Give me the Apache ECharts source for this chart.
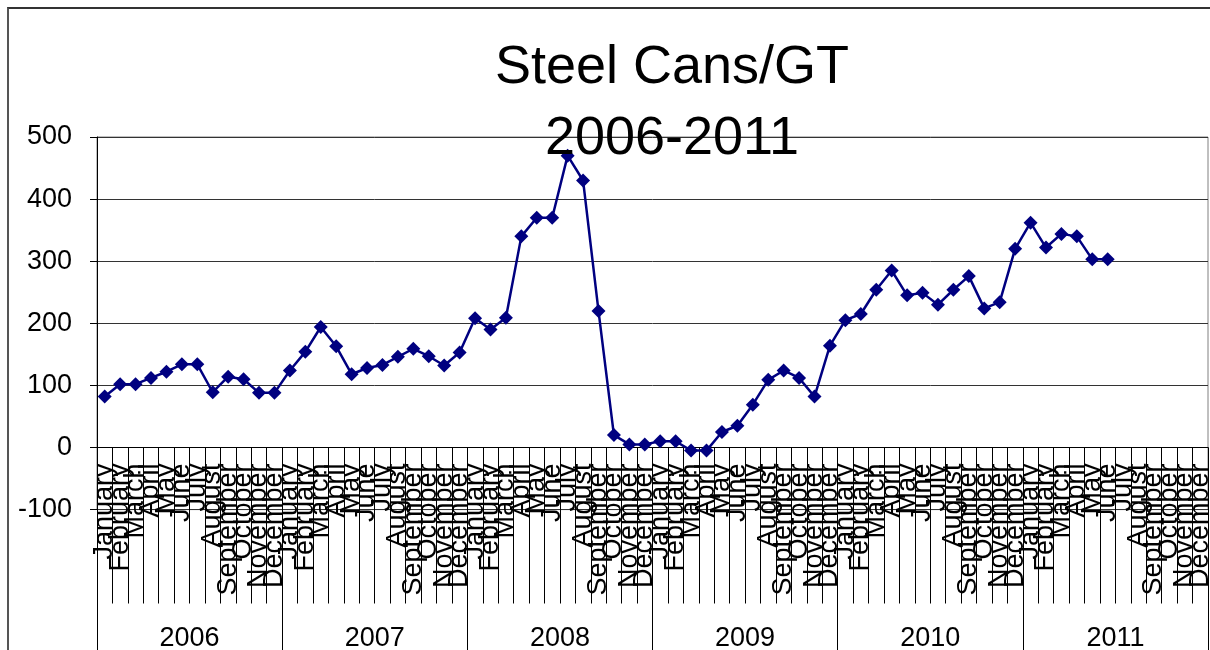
<!DOCTYPE html>
<html>
<head>
<meta charset="utf-8">
<script src="https://cdn.jsdelivr.net/npm/echarts@6/dist/echarts.min.js"></script>
<style>
  html, body { margin: 0; padding: 0; background: #fff; }
  #wrap { position: relative; width: 1210px; height: 650px; overflow: hidden; }
  #frame { position: absolute; left: 7px; top: 7px; width: 1300px; height: 700px;
           border-left: 2px solid #555; border-top: 2px solid #333; }
  #chart { position: absolute; left: 0; top: 0; width: 1210px; height: 650px; }
</style>
</head>
<body>
<div id="wrap">
  <div id="frame"></div>
  <div id="chart"></div>
</div>
<script>
// 数据
const years = ['2006', '2007', '2008', '2009', '2010', '2011']
const monthNames = ['January', 'February', 'March', 'April', 'May', 'June',
  'July', 'August', 'September', 'October', 'November', 'December']
const values2006 = [82, 102, 102, 112, 122, 134, 134, 89, 114, 110, 88, 88]
const values2007 = [124, 154, 194, 163, 118, 128, 133, 146, 159, 147, 132, 153]
const values2008 = [208, 190, 209, 340, 370, 370, 470, 430, 220, 20, 5, 5]
const values2009 = [10, 10, -5, -5, 25, 35, 69, 109, 124, 112, 82, 164]
const values2010 = [205, 215, 254, 285, 245, 249, 230, 254, 276, 224, 234, 320]
const values2011 = [362, 322, 344, 340, 303, 303, null, null, null, null, null, null]
const yTicks = { min: -100, max: 500, interval: 100 }

const months = years.flatMap(() => monthNames)
const values = [].concat(values2006, values2007, values2008, values2009, values2010, values2011)

const font = '"Liberation Sans", Arial, sans-serif'
const gridHeight = 372.6
// 月份轴放在 y=0 处（网格底部往上一个刻度）
const zeroOffset = -gridHeight * (0 - yTicks.min) / (yTicks.max - yTicks.min)

const chart = echarts.init(document.getElementById('chart'))
chart.setOption({
  animation: false,
  title: {
    text: 'Steel Cans/GT\n2006-2011',
    left: 667,
    top: 28,
    textAlign: 'center',
    textStyle: { fontFamily: font, fontSize: 54, fontWeight: 'normal', color: '#000', lineHeight: 71 }
  },
  grid: {
    left: 97,
    top: 137,
    width: 1111,
    height: gridHeight,
    show: true,
    borderColor: '#808080',
    borderWidth: 1,
    backgroundColor: 'transparent',
    containLabel: false,
    outerBoundsMode: 'none'
  },
  xAxis: [
    {
      type: 'category',
      data: months,
      position: 'bottom',
      offset: zeroOffset,
      boundaryGap: true,
      axisLine: { onZero: false, lineStyle: { color: '#000', width: 1 } },
      axisTick: { show: true, interval: 0, length: 156, lineStyle: { color: '#000', width: 1 } },
      axisLabel: {
        interval: 0,
        rotate: 90,
        margin: 16,
        fontFamily: font,
        fontSize: 27,
        color: '#000'
      },
      splitLine: { show: false }
    },
    {
      type: 'category',
      data: years,
      position: 'bottom',
      boundaryGap: true,
      axisLine: { show: false, onZero: false },
      axisTick: { show: true, interval: 0, length: 141, lineStyle: { color: '#000', width: 1 } },
      axisLabel: { interval: 0, margin: 115, fontFamily: font, fontSize: 27, color: '#000' },
      splitLine: { show: false }
    }
  ],
  yAxis: {
    type: 'value',
    min: yTicks.min,
    max: yTicks.max,
    interval: yTicks.interval,
    axisLine: { show: true, lineStyle: { color: '#000', width: 1 } },
    axisTick: { show: true, length: 7, lineStyle: { color: '#000' } },
    axisLabel: { margin: 25, fontFamily: font, fontSize: 27, color: '#000' },
    splitLine: { show: true, lineStyle: { color: '#333', width: 1 } }
  },
  series: [
    {
      name: 'Steel Cans/GT',
      type: 'line',
      xAxisIndex: 0,
      data: values,
      connectNulls: false,
      symbol: 'diamond',
      symbolSize: 14,
      lineStyle: { color: '#000080', width: 2.5 },
      itemStyle: { color: '#000080' },
      emphasis: { disabled: true }
    }
  ]
})
</script>
</body>
</html>
